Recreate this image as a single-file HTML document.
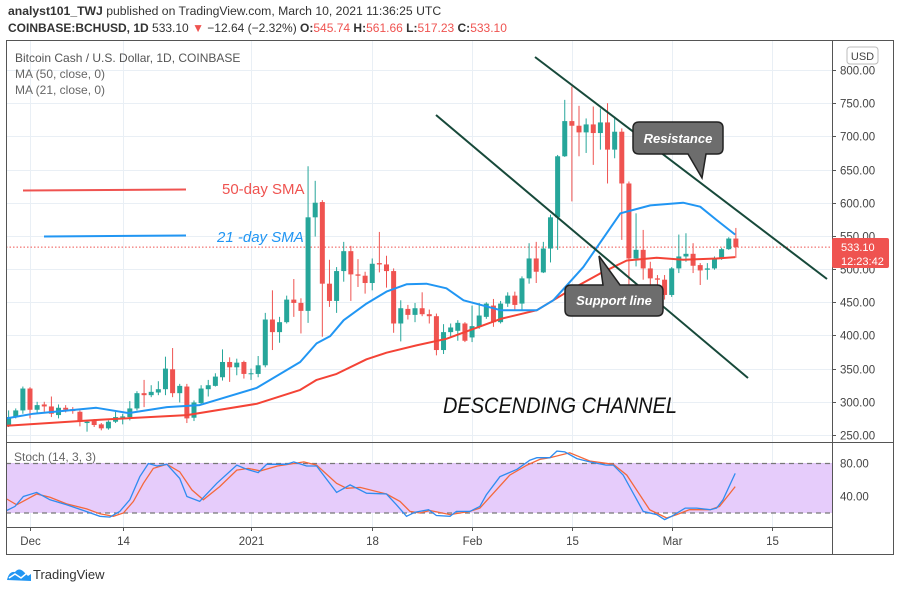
<!DOCTYPE html>
<html><head><meta charset="utf-8">
<style>
html,body{margin:0;padding:0;background:#fff;}
body{width:900px;height:590px;overflow:hidden;font-family:"Liberation Sans",sans-serif;}
svg text{font-family:"Liberation Sans",sans-serif;}
</style></head>
<body>
<svg id="chart" width="900" height="590" viewBox="0 0 900 590" xmlns="http://www.w3.org/2000/svg">
  <text x="8" y="15" font-size="12.2" fill="#333"><tspan font-weight="bold">analyst101_TWJ</tspan> published on TradingView.com, March 10, 2021 11:36:25 UTC</text>
  <text x="8" y="32" font-size="12" fill="#333"><tspan font-weight="bold">COINBASE:BCHUSD, 1D</tspan> 533.10 <tspan fill="#ef5350">▼</tspan> −12.64 (−2.32%) <tspan font-weight="bold">O:</tspan><tspan fill="#ef5350">545.74</tspan> <tspan font-weight="bold">H:</tspan><tspan fill="#ef5350">561.66</tspan> <tspan font-weight="bold">L:</tspan><tspan fill="#ef5350">517.23</tspan> <tspan font-weight="bold">C:</tspan><tspan fill="#ef5350">533.10</tspan></text>
  <g id="grid"></g>
  <rect x="6" y="463.5" width="826" height="49.5" fill="#e6ccfb"/>
  <g id="pricepane"></g>
  <g id="stochpane"></g>
  <g id="frame" fill="none" stroke="#555" stroke-width="1">
    <rect x="6.5" y="40.5" width="887" height="514"/>
    <line x1="6" y1="442.5" x2="894" y2="442.5"/>
    <line x1="6" y1="527.5" x2="832" y2="527.5"/>
    <line x1="832.5" y1="40" x2="832.5" y2="554"/>
  </g>
  <g id="axes"></g>
  <text x="15" y="62" font-size="12" fill="#555">Bitcoin Cash / U.S. Dollar, 1D, COINBASE</text>
  <text x="15" y="78" font-size="12" fill="#666">MA (50, close, 0)</text>
  <text x="15" y="94" font-size="12" fill="#666">MA (21, close, 0)</text>
  <text x="14" y="461" font-size="12" fill="#666">Stoch (14, 3, 3)</text>
  <rect x="847" y="47" width="31" height="17" rx="3" fill="#fff" stroke="#bbb"/>
  <text x="862.5" y="60" font-size="11" fill="#444" text-anchor="middle">USD</text>
  <line x1="23" y1="190.5" x2="186" y2="189.5" stroke="#ef5350" stroke-width="2"/>
  <text x="222" y="194" font-size="15" fill="#ef5350">50-day SMA</text>
  <line x1="44" y1="236.5" x2="186" y2="235.5" stroke="#2196f3" stroke-width="2"/>
  <text x="217" y="242" font-size="15" font-style="italic" fill="#2196f3">21 -day SMA</text>
  <line x1="535" y1="57" x2="827" y2="279" stroke="#17493a" stroke-width="2"/>
  <line x1="436" y1="115" x2="748" y2="378" stroke="#17493a" stroke-width="2"/>
  <text x="443" y="413" font-size="22" font-style="italic" fill="#111" textLength="234" lengthAdjust="spacingAndGlyphs">DESCENDING CHANNEL</text>
  <g>
    <path d="M639 122 H717 Q723 122 723 128 V148 Q723 154 717 154 H706 L702 178 L688 154 H639 Q633 154 633 148 V128 Q633 122 639 122 Z" fill="#6d6d6d" stroke="#222" stroke-width="1.5"/>
    <text x="678" y="143" font-size="13" font-weight="bold" font-style="italic" fill="#fff" text-anchor="middle">Resistance</text>
  </g>
  <g>
    <path d="M571 285 H603 L599 256 L620 285 H657 Q663 285 663 291 V310 Q663 316 657 316 H571 Q565 316 565 310 V291 Q565 285 571 285 Z" fill="#6d6d6d" stroke="#222" stroke-width="1.5"/>
    <text x="614" y="305" font-size="13" font-weight="bold" font-style="italic" fill="#fff" text-anchor="middle">Support line</text>
  </g>
  <rect x="832" y="238" width="57" height="30" rx="2" fill="#ef5350"/>
  <text x="841" y="251" font-size="11" fill="#fff">533.10</text>
  <text x="841" y="265" font-size="11" fill="#fff">12:23:42</text>
  <g>
    <path d="M7 580 Q9 571 15 572 Q19 567 24 572 L28 576 L31 574 L31 581 Z" fill="#2196f3"/>
    <path d="M9 578 L15 574 L21 578 L27 573" stroke="#fff" stroke-width="1.5" fill="none"/>
    <text x="33" y="579" font-size="13" fill="#333">TradingView</text>
  </g>
</svg>
<script>
const startDay = -3;
const opens  = [265,277,287,320,288,296,293,280,291,289,285,268,271,266,260,270,276,277,290,313,310,314,319,349,313,323,276,298,319,324,337,360,352,360,342,342,355,424,405,420,454,449,437,578,601,478,452,497,527,492,490,479,509,507,497,418,440,431,441,432,429,378,405,407,418,397,413,428,445,420,448,460,448,486,516,495,531,578,670,723,716,706,718,705,721,680,707,629,516,529,501,486,484,461,501,519,523,506,499,501,516,530,546];
const highs  = [287,290,323,322,300,300,308,296,295,292,287,272,274,268,272,285,282,301,316,333,325,331,368,381,327,327,302,325,333,343,379,367,365,362,350,369,434,468,428,460,485,456,655,633,604,514,503,541,535,515,496,516,556,520,501,453,446,449,465,439,433,417,418,423,420,445,449,450,455,452,465,466,489,539,541,541,582,672,755,775,746,727,745,742,750,730,712,632,584,559,511,491,491,503,552,554,539,509,509,519,532,548,562];
const lows   = [262,275,282,275,282,285,277,275,284,282,263,255,262,257,258,268,266,272,287,292,307,310,310,307,299,268,271,295,308,323,332,330,340,335,333,337,352,378,389,418,428,403,419,549,398,443,434,481,452,473,463,468,495,472,404,391,424,420,429,418,370,372,398,392,390,390,410,425,413,418,443,439,439,478,479,494,510,529,669,602,670,675,657,680,629,667,544,445,504,484,474,474,454,458,494,511,494,476,484,499,514,529,517];
const closes = [277,287,320,288,295,293,282,291,288,286,270,270,265,260,270,277,278,290,313,310,315,319,350,313,324,275,299,320,325,338,360,352,359,342,343,355,424,405,420,454,449,437,578,600,478,452,497,527,492,490,479,508,507,497,418,441,431,441,432,429,378,405,412,419,392,414,430,448,420,448,460,446,486,516,496,531,578,670,723,716,706,718,705,721,680,707,629,516,529,501,486,484,461,501,519,523,505,498,501,516,530,546,533];
const ma21Days = [-3.3,0.5,9.3,13.8,19.2,23.8,31.8,37.9,40.2,42.1,44,47.2,50,52.8,55.6,58.4,60.8,66,71.1,73.4,77.6,82.8,87,91.6,94,96.3,98.9];
const ma21Vals = [275,282,291,283,292,295,321,360,388,399,423,448,466,477,478,471,453,438,438,453,503,584,596,600,594,574,552];
const ma50Days = [-3.3,9.8,22,31.8,37.9,40.2,43,47.2,50,54.2,58.4,66,71.1,75.7,79.9,83.7,87.9,91.6,96.3,98.9];
const ma50Vals = [264,273,280,297,318,333,342,364,374,385,395,425,438,468,493,513,517,514,516,518];
const kDays = [-3.27,-2.1,-0.93,0.93,2.8,5.14,7.5,9.8,11.2,12.6,14.0,15.4,16.6,17.8,19.2,21.0,22.0,23.8,26.2,29.0,30.4,32.0,33.2,36.0,37.0,38.8,40.2,43.0,44.9,47.2,50.0,51.4,52.8,54.0,55.9,57.0,58.9,59.8,61.7,63.1,64.0,65.9,68.3,70.1,71.1,72.9,73.9,75.0,76.7,78.5,80.8,81.8,83.2,86.0,87.9,89.0,90.0,91.9,93.5,95.4,96.3,97.2,98.9];
const kVals = [23,28,40,45,36,30,23,16,15,22,36,64,80,77,79,62,40,34,56,78,73,69,79,79,82,77,77,45,54,44,43,30,16,21,24,17,16,22,22,28,42,64,73,84,87,87,95,94,86,82,78,78,66,22,18,12,16,26,26,24,26,36,68];
const dDays = [-3.27,-1.87,0.93,2.8,5.14,7.95,9.8,11.7,13.1,14.5,15.9,17.3,19.2,21.0,22.7,24.3,26.6,29.0,30.6,32.3,34.7,37.0,38.4,40.2,43.0,44.4,46.3,50.0,51.9,53.3,54.7,56.1,58.9,61.7,63.1,65.0,67.3,69.7,71.5,72.9,75.7,78.5,81.8,83.7,86.9,89.3,90.7,92.5,95.4,96.7,98.9];
const dVals = [37,30,43,39,31,25,19,16,20,34,56,74,79,70,48,36,52,72,74,71,77,80,82,78,56,50,51,43,34,22,20,23,18,22,26,44,66,78,85,87,93,83,79,66,24,14,18,24,24,28,52];
const priceTicks = [800,750,700,650,600,550,500,450,400,350,300,250];
const stochTicks = [80,40];
const timeTickDays = [0,13,31,48,62,76,90,104];
const timeTickLabels = ["Dec","14","2021","18","Feb","15","Mar","15"];

const X = d => 30 + d * 7.13;
const Y = p => 70 + (800 - p) * 0.6636;
const SY = v => 447 + (100 - v) * 0.825;
const NS = "http://www.w3.org/2000/svg";
function mk(tag, attrs, parent){
  const el = document.createElementNS(NS, tag);
  for (const k in attrs) el.setAttribute(k, attrs[k]);
  parent.appendChild(el);
  return el;
}
const grid = document.getElementById('grid');
const axes = document.getElementById('axes');
const pp = document.getElementById('pricepane');
const sp = document.getElementById('stochpane');

priceTicks.forEach(p => {
  const y = Math.round(Y(p)) + 0.5;
  const g = mk('line', {x1:6, y1:y, x2:832, y2:y, stroke:'#e9eff5', 'stroke-width':1}, grid);
  
  
  const t = mk('line', {x1:832, y1:y, x2:836, y2:y, stroke:'#555'}, axes);
  
  
  const l = mk('text', {x:840, y:y+4, 'font-size':11.5, fill:'#444'}, axes);
  
  
  l.textContent = p.toFixed(2);
});
stochTicks.forEach(v => {
  const y = SY(v);
  const g = mk('line', {x1:6, y1:y, x2:832, y2:y, stroke:'#d8c0ef', 'stroke-width':1}, grid);
  
  
  const l = mk('text', {x:840, y:y+4, 'font-size':11.5, fill:'#444'}, axes);
  
  
  l.textContent = v.toFixed(2);
});
timeTickDays.forEach((d, i) => {
  const x = Math.round(X(d)) + 0.5;
  const g = mk('line', {x1:x, y1:41, x2:x, y2:527, stroke:'#e9eff5', 'stroke-width':1}, grid);
  
  
  const t = mk('line', {x1:x, y1:527, x2:x, y2:531, stroke:'#555'}, axes);
  
  
  const l = mk('text', {x:x, y:545, 'font-size':11.5, fill:'#444', 'text-anchor':'middle'}, axes);
  
  
  l.textContent = timeTickLabels[i];
});
[80,20].forEach(v => {
  const l = mk('line', {x1:6, y1:SY(v), x2:832, y2:SY(v), stroke:'#777', 'stroke-dasharray':'5,4', 'stroke-width':1.2}, sp);
  
  
});
const lp = mk('line', {x1:6, y1:Y(533.1), x2:832, y2:Y(533.1), stroke:'#ef5350', 'stroke-dasharray':'1.5,2', 'stroke-width':1}, pp);



for (let i = 0; i < opens.length; i++) {
  const d = startDay + i;
  const x = X(d);
  const up = closes[i] >= opens[i];
  const col = up ? '#26a69a' : '#ef5350';
  const w = mk('line', {x1:x, y1:Y(highs[i]), x2:x, y2:Y(lows[i]), stroke:col, 'stroke-width':1}, pp);
  
  
  const top = Y(Math.max(opens[i], closes[i]));
  const bot = Y(Math.min(opens[i], closes[i]));
  const b = mk('rect', {x:x-2.5, y:top, width:5, height:Math.max(1, bot-top), fill:col}, pp);
  
  
}
function path(days, vals, sy){
  return days.map((d, i) => (i ? 'L' : 'M') + X(d).toFixed(1) + ' ' + sy(vals[i]).toFixed(1)).join(' ');
}
const m50 = mk('path', {d:path(ma50Days, ma50Vals, Y), fill:'none', stroke:'#f44336', 'stroke-width':2, 'stroke-linejoin':'round'}, pp);


const m21 = mk('path', {d:path(ma21Days, ma21Vals, Y), fill:'none', stroke:'#2196f3', 'stroke-width':2, 'stroke-linejoin':'round'}, pp);


const dl = mk('path', {d:path(dDays, dVals, SY), fill:'none', stroke:'#f4683c', 'stroke-width':1.3}, sp);


const kl = mk('path', {d:path(kDays, kVals, SY), fill:'none', stroke:'#2f8cf0', 'stroke-width':1.3}, sp);


</script>
</body></html>
